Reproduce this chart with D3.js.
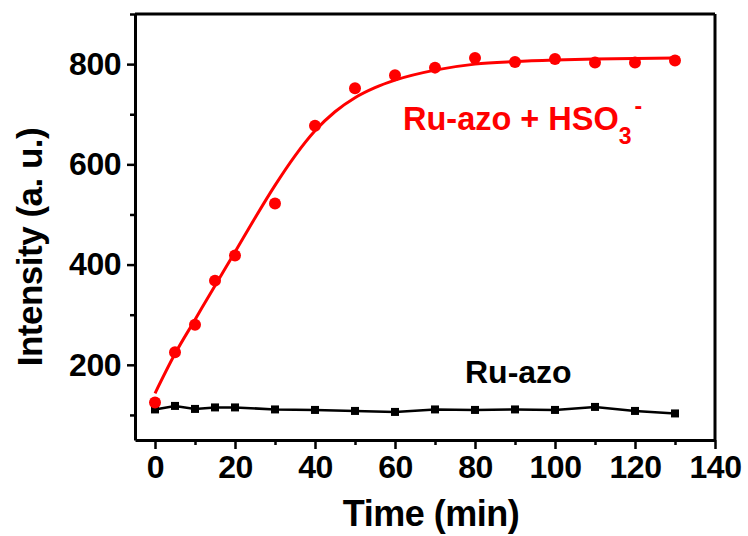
<!DOCTYPE html>
<html>
<head>
<meta charset="utf-8">
<script src="https://cdn.jsdelivr.net/npm/d3@7"></script>
<style>
  html, body { margin: 0; padding: 0; background: #fff; }
  svg { display: block; }
  text { font-family: "Liberation Sans", Arial, sans-serif; font-weight: bold; }
</style>
</head>
<body>
<svg id="chart" width="748" height="536"></svg>
<script>
// Measured emission intensity over time
const timeMin = [0, 5, 10, 15, 20, 30, 40, 50, 60, 70, 80, 90, 100, 110, 120, 130];
const withHSO3 = [125, 225, 280, 368, 418, 522, 677, 752, 778, 793, 812, 804, 810, 803, 803, 807];
const probeOnly = [111, 118, 112, 115, 115, 111, 110, 108, 106, 111, 110, 111, 110, 116, 108, 103];

// Fitted kinetic curve for Ru-azo + HSO3-
const fitTime = [0, 5, 10, 15, 20, 25, 30, 35, 40, 45, 50, 55, 60, 70, 80, 90, 100, 110, 120, 130];
const fitValue = [143, 222, 290, 358, 425, 493, 558, 617, 667, 705, 733, 753, 768, 788, 800, 805, 808, 810, 811, 812];

// Axis ticks
const xMajor = [0, 20, 40, 60, 80, 100, 120, 140];
const xMinor = [10, 30, 50, 70, 90, 110, 130];
const yMajor = [200, 400, 600, 800];
const yMinor = [100, 300, 500, 700, 900];

const svg = d3.select("#chart");
const plotLeft = 135, plotRight = 715, plotTop = 14, plotBottom = 440;

const x = d3.scaleLinear().domain([-5, 140]).range([plotLeft, plotRight]);
const y = d3.scaleLinear().domain([50, 900]).range([plotBottom, plotTop]);

// Frame
const frame = svg.append("g").attr("stroke", "#000").attr("stroke-width", 3).attr("fill", "none");
frame.append("line").attr("x1", plotLeft).attr("x2", plotRight).attr("y1", plotTop).attr("y2", plotTop);
frame.append("line").attr("x1", plotRight).attr("x2", plotRight).attr("y1", plotTop).attr("y2", plotBottom);

// Bottom axis
svg.append("g").attr("transform", `translate(0,${plotBottom})`)
  .call(d3.axisBottom(x).tickValues(xMajor).tickSize(9).tickSizeOuter(0).tickPadding(6).tickFormat(d3.format("d")));
svg.append("g").attr("transform", `translate(0,${plotBottom})`)
  .call(d3.axisBottom(x).tickValues(xMinor).tickSize(5).tickSizeOuter(0).tickFormat(""))
  .call(g => g.select(".domain").remove());

// Left axis
svg.append("g").attr("transform", `translate(${plotLeft},0)`)
  .call(d3.axisLeft(y).tickValues(yMajor).tickSize(8).tickSizeOuter(0).tickPadding(6).tickFormat(d3.format("d")));
svg.append("g").attr("transform", `translate(${plotLeft},0)`)
  .call(d3.axisLeft(y).tickValues(yMinor).tickSize(5).tickSizeOuter(0).tickFormat(""))
  .call(g => g.select(".domain").remove());

svg.selectAll(".domain").attr("stroke", "#000").attr("stroke-width", 3);
svg.selectAll(".tick line").attr("stroke", "#000").attr("stroke-width", 2.5);
svg.selectAll(".tick text")
  .attr("fill", "#000")
  .style("font-family", '"Liberation Sans", Arial, sans-serif')
  .style("font-weight", "bold")
  .style("font-size", "32px")
  .style("letter-spacing", "-0.5px");

// Axis titles
svg.append("text")
  .attr("x", 431).attr("y", 526)
  .attr("text-anchor", "middle")
  .style("font-size", "36px")
  .style("letter-spacing", "-0.5px")
  .text("Time (min)");

svg.append("text")
  .attr("transform", "translate(42,247) rotate(-90)")
  .attr("text-anchor", "middle")
  .style("font-size", "35px")
  .style("letter-spacing", "-0.5px")
  .text("Intensity (a. u.)");

// Ru-azo alone: connected squares
const line = d3.line().x(d => x(d[0])).y(d => y(d[1]));
const probeData = timeMin.map((t, i) => [t, probeOnly[i]]);
svg.append("path")
  .datum(probeData)
  .attr("d", line)
  .attr("fill", "none")
  .attr("stroke", "#000")
  .attr("stroke-width", 2.5);
const sq = 8;
svg.append("g").selectAll("rect")
  .data(probeData).join("rect")
  .attr("x", d => x(d[0]) - sq / 2)
  .attr("y", d => y(d[1]) - sq / 2)
  .attr("width", sq).attr("height", sq)
  .attr("fill", "#000");

// Ru-azo + HSO3-: fitted curve and measured points
const fitData = fitTime.map((t, i) => [t, fitValue[i]]);
svg.append("path")
  .datum(fitData)
  .attr("d", d3.line().x(d => x(d[0])).y(d => y(d[1])).curve(d3.curveMonotoneX))
  .attr("fill", "none")
  .attr("stroke", "#ff0000")
  .attr("stroke-width", 3);
svg.append("g").selectAll("circle")
  .data(timeMin.map((t, i) => [t, withHSO3[i]])).join("circle")
  .attr("cx", d => x(d[0]))
  .attr("cy", d => y(d[1]))
  .attr("r", 6)
  .attr("fill", "#ff0000");

// Series labels
const redLabel = svg.append("text")
  .attr("x", 403).attr("y", 130)
  .attr("fill", "#ff0000")
  .style("font-size", "32.5px");
redLabel.append("tspan").text("Ru-azo + HSO");
redLabel.append("tspan").attr("dy", 14).style("font-size", "23px").text("3");
redLabel.append("tspan").attr("dy", -30).attr("dx", 3).style("font-size", "23px").text("-");

svg.append("text")
  .attr("x", 465).attr("y", 383)
  .attr("fill", "#000")
  .style("font-size", "32px")
  .text("Ru-azo");
</script>
</body>
</html>
